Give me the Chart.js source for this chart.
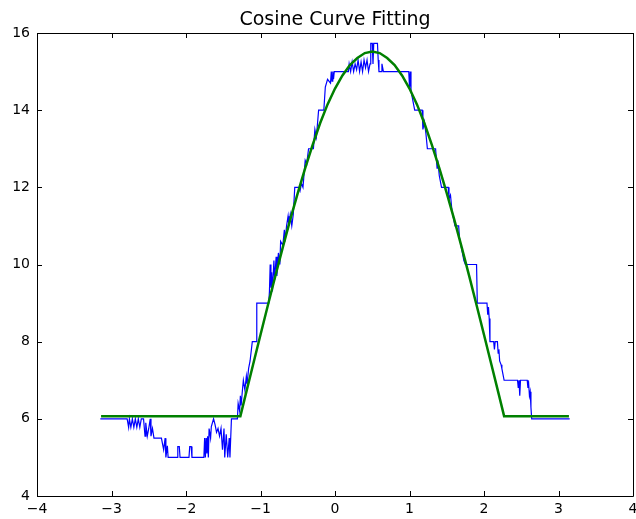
<!DOCTYPE html>
<html>
<head>
<meta charset="utf-8">
<script src="https://cdn.jsdelivr.net/npm/chart.js@4.4.1/dist/chart.umd.min.js"></script>
<style>
  html, body { margin: 0; padding: 0; background: #fff; overflow: hidden; }
  #wrap { width: 636px; height: 519px; overflow: hidden; }
  canvas { display: block; }
</style>
</head>
<body>
<div id="wrap"><canvas id="c" width="643" height="519"></canvas></div>
<script>
// Measured samples (blue) and the fitted cosine (green)
const blueX = [-3.15,-2.79,-2.77,-2.76,-2.74,-2.72,-2.70,-2.68,-2.66,-2.64,-2.62,-2.60,-2.57,-2.55,-2.54,-2.52,-2.50,-2.48,-2.47,-2.45,-2.43,-2.33,-2.30,-2.28,-2.27,-2.25,-2.24,-2.12,-2.11,-2.09,-2.08,-1.96,-1.95,-1.93,-1.92,-1.76,-1.75,-1.74,-1.73,-1.72,-1.71,-1.70,-1.69,-1.67,-1.66,-1.63,-1.61,-1.59,-1.57,-1.55,-1.53,-1.51,-1.49,-1.48,-1.46,-1.44,-1.42,-1.41,-1.39,-1.31,-1.30,-1.28,-1.27,-1.26,-1.24,-1.23,-1.21,-1.19,-1.18,-1.16,-1.14,-1.11,-1.06,-1.05,-0.89,-0.88,-0.87,-0.86,-0.85,-0.84,-0.82,-0.81,-0.79,-0.78,-0.76,-0.74,-0.73,-0.70,-0.68,-0.67,-0.65,-0.63,-0.62,-0.60,-0.58,-0.56,-0.54,-0.49,-0.47,-0.45,-0.43,-0.40,-0.38,-0.355,-0.29,-0.27,-0.25,-0.22,-0.15,-0.13,-0.10,-0.06,-0.05,-0.04,-0.03,-0.02,-0.01,0.18,0.19,0.21,0.23,0.25,0.27,0.29,0.31,0.33,0.35,0.37,0.39,0.41,0.43,0.45,0.47,0.48,0.50,0.51,0.52,0.57,0.58,0.59,0.62,0.63,0.65,0.99,1.00,1.01,1.02,1.04,1.06,1.07,1.17,1.18,1.20,1.22,1.24,1.35,1.37,1.38,1.40,1.43,1.52,1.53,1.55,1.57,1.59,1.61,1.66,1.67,1.69,1.71,1.73,1.75,1.90,1.91,2.04,2.05,2.06,2.07,2.08,2.13,2.14,2.15,2.18,2.19,2.20,2.21,2.23,2.24,2.27,2.45,2.46,2.47,2.48,2.49,2.58,2.59,2.60,2.61,2.62,2.63,2.64,3.15];
const blueY = [6.0,6.0,5.78,6.0,5.78,6.0,5.78,6.0,5.78,6.0,5.78,6.0,6.0,5.55,5.9,5.55,5.75,6.0,5.55,5.75,5.5,5.5,5.2,5.5,5.0,5.3,5.0,5.0,5.28,5.28,5.0,5.0,5.28,5.28,5.0,5.0,5.5,5.0,5.5,5.1,5.55,5.0,5.75,5.5,5.8,6.0,5.85,5.65,5.75,5.55,5.75,5.2,5.75,5.0,5.6,5.0,5.5,5.0,6.0,6.0,6.4,6.2,6.6,6.35,6.8,7.0,6.75,7.1,6.9,7.3,7.5,8.0,8.0,9.0,9.0,9.3,10.0,9.4,9.8,9.3,10.1,9.6,10.2,9.7,10.3,10.0,10.6,10.5,10.9,10.6,11.0,11.25,11.0,11.3,11.0,11.3,12.0,12.0,11.9,12.1,12.0,12.7,12.6,13.0,13.0,13.5,13.3,14.0,14.0,14.6,14.8,14.7,15.0,14.75,15.0,14.8,15.0,15.0,15.2,15.0,15.25,15.0,15.2,15.05,15.3,15.0,15.25,15.0,15.3,15.1,15.3,15.0,15.2,15.73,15.73,15.2,15.73,15.73,15.3,15.0,15.0,15.2,15.0,15.0,14.6,15.0,14.5,14.3,14.1,14.0,14.0,13.5,13.7,13.4,13.0,13.0,12.5,12.7,12.3,12.0,12.0,11.7,11.8,11.4,11.2,11.0,11.0,10.7,10.5,10.3,10.1,10.0,10.0,9.0,9.0,8.7,8.9,8.6,8.0,8.0,7.8,8.0,8.0,7.7,7.8,7.5,7.4,7.3,7.0,7.0,6.8,7.0,6.6,7.0,7.0,6.8,6.9,6.6,6.7,6.3,6.0,6.0];

const greenX = [-3.14,-1.27,-1.2,-1.1,-1.0,-0.9,-0.8,-0.7,-0.6,-0.5,-0.4,-0.3,-0.2,-0.1,0.0,0.1,0.2,0.3,0.4,0.5,0.6,0.7,0.8,0.9,1.0,1.1,1.2,1.3,1.4,1.5,1.6,1.7,1.8,1.9,2.0,2.1,2.2,2.27,3.14];
const greenY = [6.07,6.07,6.62,7.4,8.18,8.95,9.71,10.45,11.17,11.85,12.5,13.1,13.66,14.15,14.56,14.9,15.17,15.35,15.48,15.52,15.48,15.35,15.17,14.9,14.56,14.15,13.66,13.1,12.5,11.85,11.17,10.45,9.71,8.95,8.18,7.4,6.62,6.07,6.07];

const xTicks = [-4,-3,-2,-1,0,1,2,3,4];
const yTicks = [4,6,8,10,12,14,16];

const toPoints = (xs, ys) => xs.map((x, i) => ({ x, y: ys[i] }));
const fmt = v => (v < 0 ? '\u2212' + Math.abs(v) : String(v));

// Box frame with inward tick marks on all four sides
const frame = {
  id: 'frame',
  afterDatasetsDraw(chart) {
    const { ctx, chartArea: a, scales } = chart;
    const len = 5;
    ctx.save();
    ctx.strokeStyle = '#000';
    ctx.lineWidth = 1;
    ctx.beginPath();
    ctx.rect(Math.round(a.left) + 0.5, Math.round(a.top) + 0.5,
             Math.round(a.right - a.left), Math.round(a.bottom - a.top));
    ctx.stroke();
    ctx.beginPath();
    scales.x.ticks.forEach(t => {
      const px = Math.round(scales.x.getPixelForValue(t.value)) + 0.5;
      ctx.moveTo(px, a.bottom); ctx.lineTo(px, a.bottom - len);
      ctx.moveTo(px, a.top); ctx.lineTo(px, a.top + len);
    });
    scales.y.ticks.forEach(t => {
      const py = Math.round(scales.y.getPixelForValue(t.value)) + 0.5;
      ctx.moveTo(a.left, py); ctx.lineTo(a.left + len, py);
      ctx.moveTo(a.right, py); ctx.lineTo(a.right - len, py);
    });
    ctx.stroke();
    ctx.restore();
  }
};

new Chart(document.getElementById('c'), {
  type: 'scatter',
  data: {
    datasets: [
      { data: toPoints(blueX, blueY), showLine: true, borderColor: '#0000ff',
        borderWidth: 1.2, pointRadius: 0, tension: 0, order: 2 },
      { data: toPoints(greenX, greenY), showLine: true, borderColor: '#008000',
        borderWidth: 2.5, pointRadius: 0, tension: 0, order: 1 }
    ]
  },
  options: {
    responsive: false,
    animation: false,
    layout: { padding: { left: 0, right: 10, top: 0, bottom: 0 } },
    plugins: {
      legend: { display: false },
      tooltip: { enabled: false },
      title: {
        display: true, text: 'Cosine Curve Fitting', fullSize: false,
        color: '#000', font: { family: 'DejaVu Sans', size: 19, weight: 'normal', lineHeight: 1.2 },
        padding: { top: 8.6, bottom: 1.6 }
      }
    },
    scales: {
      x: {
        type: 'linear', min: -4, max: 4,
        afterBuildTicks: s => { s.ticks = xTicks.map(v => ({ value: v })); },
        afterFit: s => { s.height = 23; },
        grid: { display: false, drawTicks: false },
        border: { display: false },
        ticks: { color: '#000', padding: 5, maxRotation: 0, autoSkip: false,
                 font: { family: 'DejaVu Sans', size: 14 }, callback: fmt }
      },
      y: {
        type: 'linear', min: 4, max: 16,
        afterBuildTicks: s => { s.ticks = yTicks.map(v => ({ value: v })); },
        afterFit: s => { s.width = 37; },
        grid: { display: false, drawTicks: false },
        border: { display: false },
        ticks: { color: '#000', padding: 7, autoSkip: false,
                 font: { family: 'DejaVu Sans', size: 14 }, callback: fmt }
      }
    }
  },
  plugins: [frame]
});
</script>
</body>
</html>
